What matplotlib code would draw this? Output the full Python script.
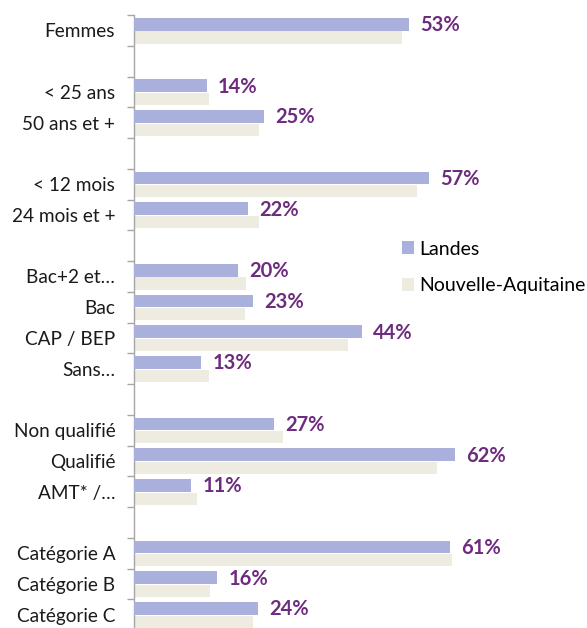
import matplotlib
matplotlib.use("Agg")
import matplotlib.pyplot as plt
from matplotlib.patches import Patch

plt.rcParams['font.family'] = ['Lato', 'DejaVu Sans']

groups = [
    ["Femmes"],
    ["< 25 ans", "50 ans et +"],
    ["< 12 mois", "24 mois et +"],
    ["Bac+2 et…", "Bac", "CAP / BEP", "Sans…"],
    ["Non qualifié", "Qualifié", "AMT* /…"],
    ["Catégorie A", "Catégorie B", "Catégorie C"],
]
landes = [53, 14, 25, 57, 22, 20, 23, 44, 13, 27, 62, 11, 61, 16, 24]
nouvelle_aquitaine = [51.7, 14.5, 24.1, 54.6, 24.1, 21.6, 21.4, 41.3, 14.5,
                      28.8, 58.5, 12.1, 61.4, 14.7, 22.9]
series_names = ["Landes", "Nouvelle-Aquitaine"]

c_landes = "#aab0dc"
c_na = "#eeebe0"
c_lab = "#6e2c7e"

# positions: one blank slot between groups
labels, pos = [], []
p = 0
for gi, g in enumerate(groups):
    if gi > 0:
        p += 1
    for name in g:
        labels.append(name)
        pos.append(p)
        p += 1
nslots = p

W, H = 587, 628
fig = plt.figure(figsize=(W / 100, H / 100), dpi=100)
top_px, bot_px = 15, 628 + 2
left_px, right_px = 134, 584
ax = fig.add_axes([left_px / W, 1 - bot_px / H, (right_px - left_px) / W, (bot_px - top_px) / H])

h = 0.42
yl = [y - 0.2 for y in pos]
yn = [y + 0.23 for y in pos]
ax.barh(yl, landes, height=h, color=c_landes, zorder=3)
ax.barh(yn, nouvelle_aquitaine, height=0.40, color=c_na, zorder=2)

for y, v in zip(yl, landes):
    ax.text(v + 2.2, y + 0.03, f"{v}%", color=c_lab, fontsize=14.5, fontweight="bold",
            va="center", ha="left")

ax.set_xlim(0, (right_px - left_px) / 5.18)
ax.set_ylim(nslots - 0.5, -0.5)

# boundary ticks
ax.set_yticks([i - 0.5 for i in range(nslots + 1)])
ax.set_yticklabels([])
ax.tick_params(axis="y", which="major", length=5, color="#a6a6a6", width=1)
ax.set_yticks(pos, minor=True)
ax.set_yticklabels(labels, minor=True, fontsize=13.7, color="#1a1a1a")
ax.tick_params(axis="y", which="minor", length=0, pad=13.5)

ax.xaxis.set_visible(False)
for s in ["top", "right", "bottom"]:
    ax.spines[s].set_visible(False)
ax.spines["left"].set_color("#a6a6a6")
ax.spines["left"].set_linewidth(1)

handles = [Patch(facecolor=c_landes), Patch(facecolor=c_na)]
fig.legend(handles, series_names, loc="upper left",
           bbox_to_anchor=(388 / W, 1 - 227 / H), frameon=False, fontsize=14,
           handlelength=0.62, handleheight=0.62, handletextpad=0.3, labelspacing=1.02,
           borderpad=0.2)

fig.savefig("out.png", dpi=100)
